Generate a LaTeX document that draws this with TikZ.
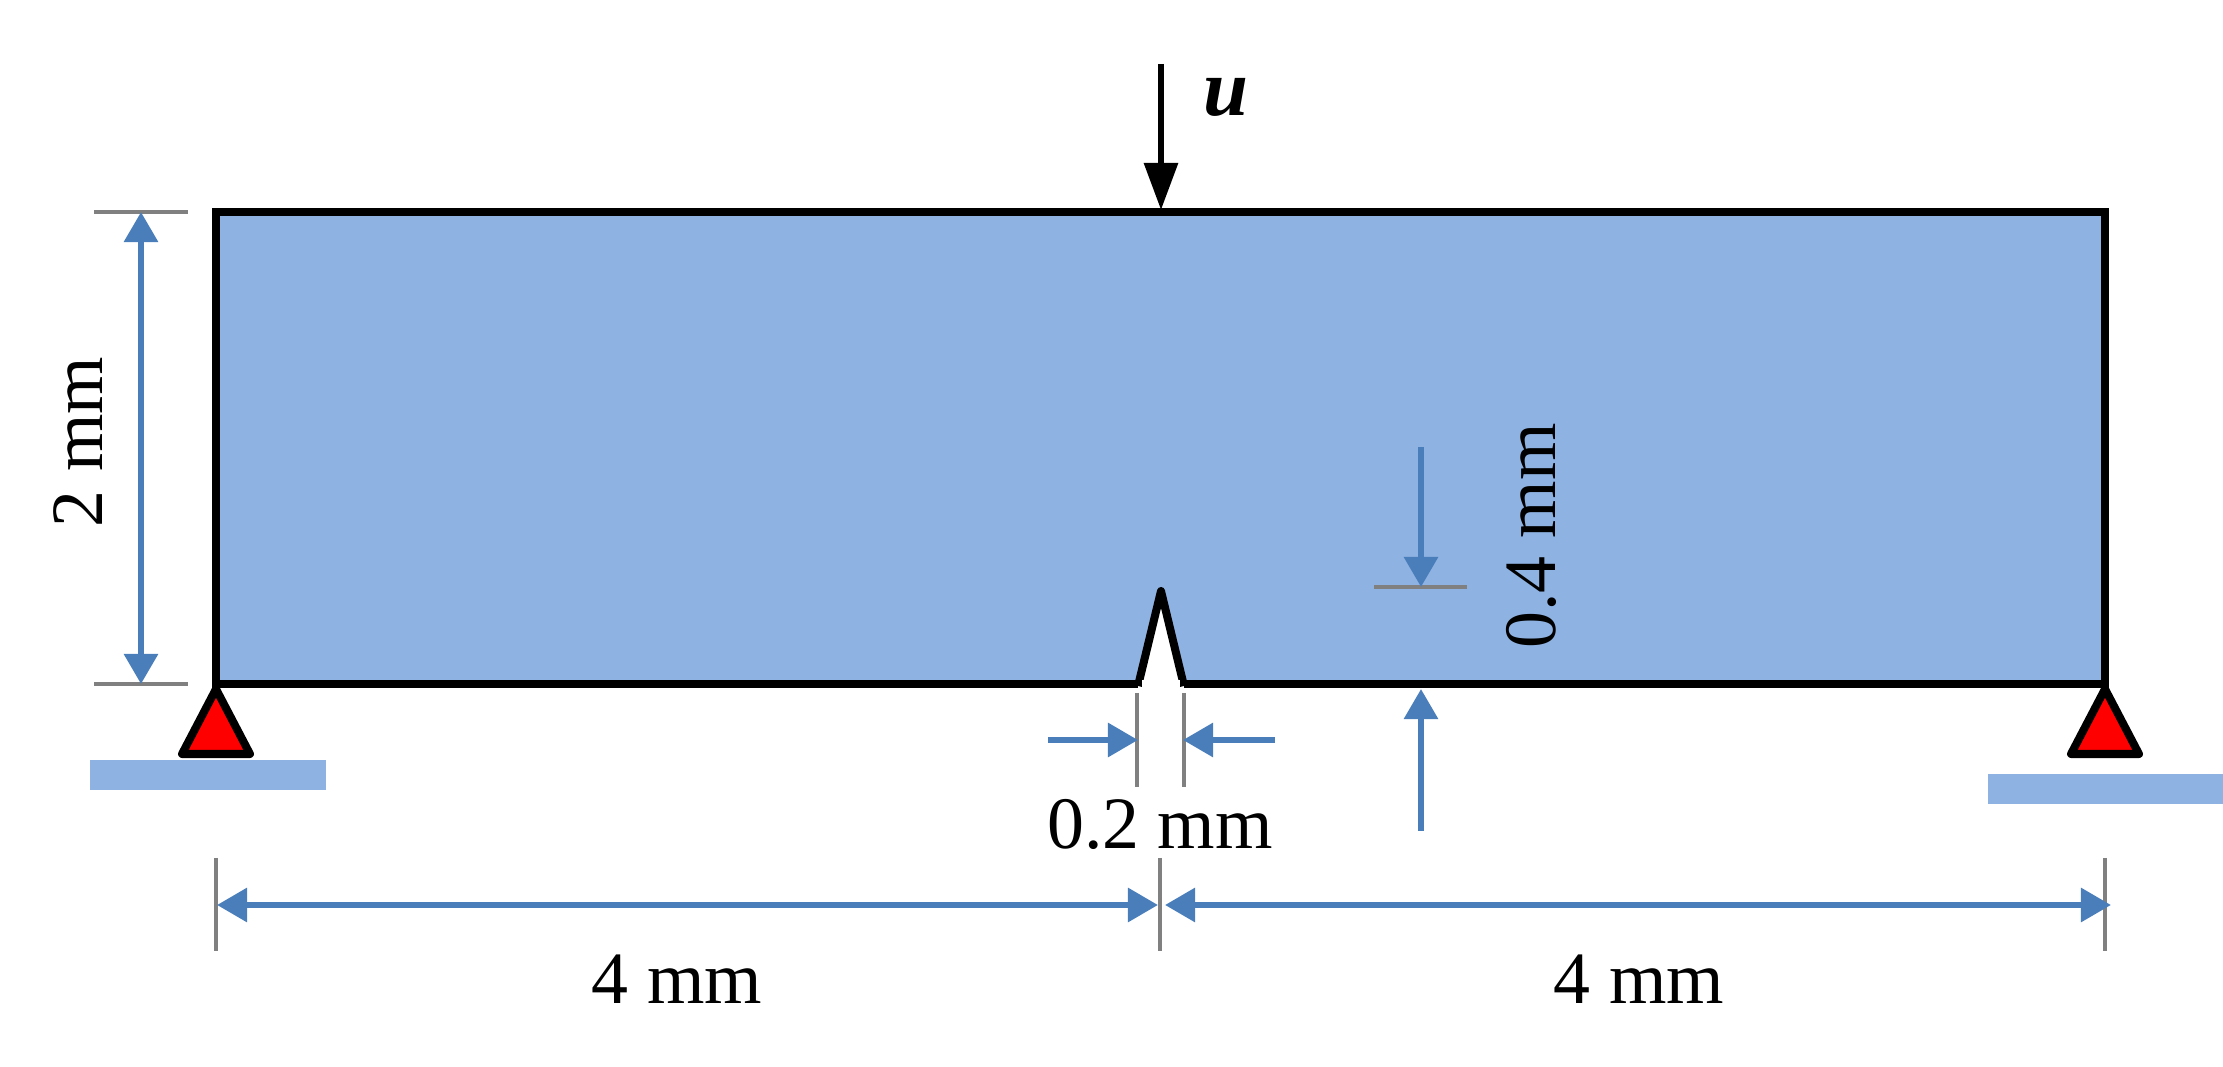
\documentclass[tikz,border=0pt]{standalone}
\usepackage{fontspec}
\setmainfont{Liberation Serif}
\usetikzlibrary{arrows.meta}
\definecolor{beamblue}{HTML}{8EB2E2}
\definecolor{dimblue}{HTML}{4A7EBB}
\tikzstyle{beam} = [draw=black,line width=0.08cm,miter limit=10]
\tikzstyle{ground} = [fill=beamblue]
\tikzstyle{pin} = [fill=red,draw=black,line width=0.08cm,line join=round]
\tikzstyle{dim} = [draw=dimblue,line width=0.06cm,-{Triangle[length=0.3cm,width=0.33cm]}]
\tikzstyle{dimboth} = [draw=dimblue,line width=0.06cm,{Triangle[length=0.3cm,width=0.33cm]}-{Triangle[length=0.3cm,width=0.33cm]}]
\tikzstyle{ext} = [draw=gray,line width=0.04cm]
\tikzstyle{load} = [draw=black,line width=0.06cm,-{Triangle[length=0.47cm,width=0.33cm]}]
\tikzstyle{dimlabel} = [inner sep=0pt,anchor=base,font=\fontsize{21}{25}\selectfont]

\begin{document}
\begin{tikzpicture}[x=0.01cm,y=-0.01cm]
		\useasboundingbox (0,0) rectangle (2223,1067);
		% beam with notch
		\fill[beamblue] (216,212) -- (2105,212) -- (2105,684) -- (1184,684) -- (1161,591) -- (1138,684) -- (216,684) -- cycle;
		\draw[beam,line join=round] (1184,686) -- (1161,591) -- (1138,686);
		\fill[white] (1125,688) rectangle (1197,694);
		\fill[white] (1142,680) rectangle (1180,690);
		\draw[beam] (1138,684) -- (216,684) -- (216,212) -- (2105,212) -- (2105,684) -- (1184,684);
		% supports
		\fill[ground] (90,760) rectangle (326,790);
		\fill[ground] (1988,774) rectangle (2223,804);
		\draw[pin] (216,689) -- (250,754) -- (182,754) -- cycle;
		\draw[pin] (2105,689) -- (2139,754) -- (2071,754) -- cycle;
		% load
		\coordinate (u1) at (1161,64);
		\coordinate (u2) at (1161,210);
		\draw[load] (u1) -- (u2);
		\node[inner sep=0pt,anchor=base,font=\fontsize{23}{28}\selectfont\itshape\bfseries] (ulabel) at (1226,116) {u};
		% extension lines
		\coordinate (e1) at (94,212);
		\coordinate (e2) at (188,212);
		\coordinate (e3) at (94,684);
		\coordinate (e4) at (188,684);
		\coordinate (e5) at (216,858);
		\coordinate (e6) at (216,951);
		\coordinate (e7) at (1160,858);
		\coordinate (e8) at (1160,951);
		\coordinate (e9) at (2105,858);
		\coordinate (e10) at (2105,951);
		\coordinate (e11) at (1137,693);
		\coordinate (e12) at (1137,787);
		\coordinate (e13) at (1184,693);
		\coordinate (e14) at (1184,787);
		\coordinate (e15) at (1374,587);
		\coordinate (e16) at (1467,587);
		\draw[ext] (e1) -- (e2);
		\draw[ext] (e3) -- (e4);
		\draw[ext] (e5) -- (e6);
		\draw[ext] (e7) -- (e8);
		\draw[ext] (e9) -- (e10);
		\draw[ext] (e11) -- (e12);
		\draw[ext] (e13) -- (e14);
		\draw[ext] (e15) -- (e16);
		% dimension arrows
		\coordinate (h1) at (141,212);
		\coordinate (h2) at (141,684);
		\coordinate (l1) at (217,905);
		\coordinate (l2) at (1158,905);
		\coordinate (r1) at (1165,905);
		\coordinate (r2) at (2111,905);
		\coordinate (n1) at (1048,740);
		\coordinate (n2) at (1138,740);
		\coordinate (n3) at (1275,740);
		\coordinate (n4) at (1183,740);
		\coordinate (d1) at (1421,447);
		\coordinate (d2) at (1421,587);
		\coordinate (d3) at (1421,831);
		\coordinate (d4) at (1421,689);
		\draw[dimboth] (h1) -- (h2);
		\draw[dimboth] (l1) -- (l2);
		\draw[dimboth] (r1) -- (r2);
		\draw[dim] (n1) -- (n2);
		\draw[dim] (n3) -- (n4);
		\draw[dim] (d1) -- (d2);
		\draw[dim] (d3) -- (d4);
		% labels
		\node[dimlabel,rotate=90] (h) at (103,442) {2 mm};
		\node[dimlabel,rotate=90] (d) at (1555,536) {0.4 mm};
		\node[dimlabel] (n) at (1160,849) {0.2 mm};
		\node[dimlabel] (l) at (677,1004) {4 mm};
		\node[dimlabel] (r) at (1639,1004) {4 mm};
		\end{tikzpicture}
\end{document}
